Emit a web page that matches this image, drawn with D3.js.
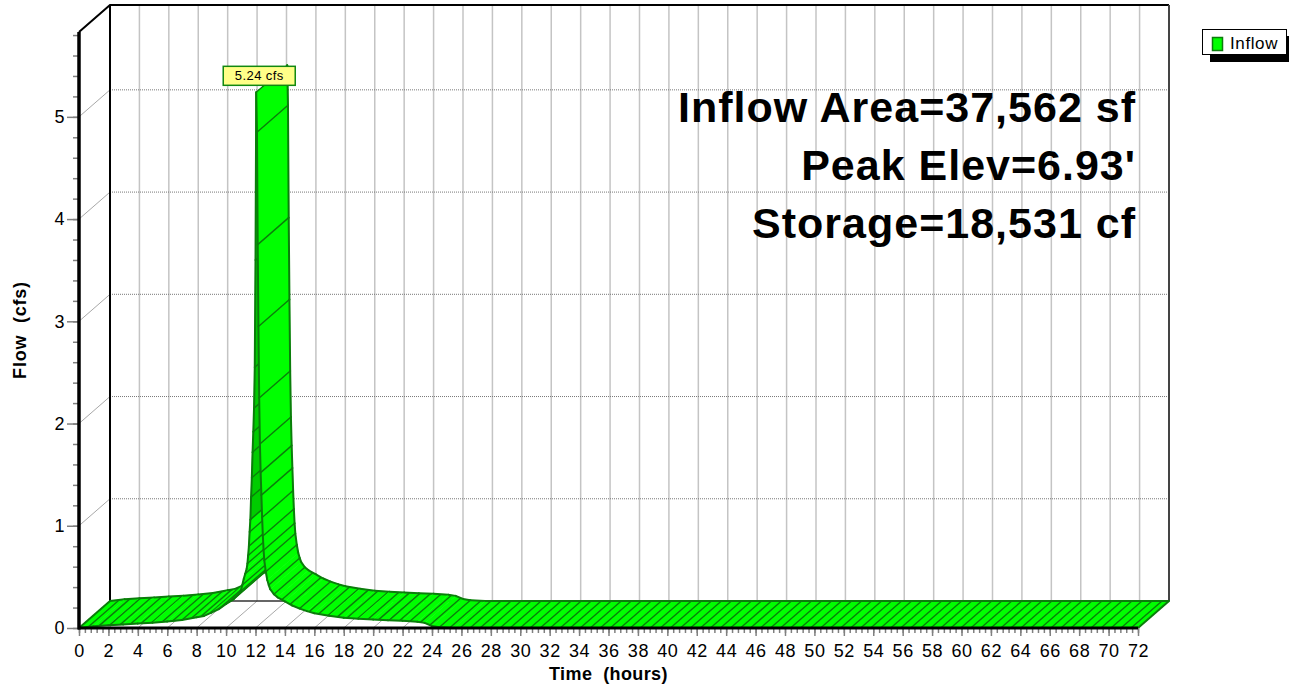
<!DOCTYPE html>
<html>
<head>
<meta charset="utf-8">
<script src="https://cdn.jsdelivr.net/npm/d3@7"></script>
<style>
  body { margin: 0; background: #fff; }
  svg { display: block; font-family: "Liberation Sans", Arial, sans-serif; }
</style>
</head>
<body>
<svg width="1294" height="686"></svg>
<script>
// inflow hydrograph (hours, cfs)
var hours = [0, 1, 2, 3, 4, 5, 6, 7, 8, 8.5, 9, 9.5, 10, 10.5,
  11, 11.1, 11.2, 11.3, 11.4, 11.45, 11.5, 11.55, 11.6, 11.65, 11.7, 11.75, 11.8, 11.85, 11.9, 11.95, 12, 12.05,
  12.1, 12.15, 12.2, 12.25, 12.3, 12.35, 12.4, 12.45, 12.5, 12.55, 12.6, 12.7, 12.8, 12.9, 13, 13.25, 13.5,
  14, 14.5, 15, 15.5, 16, 17, 18, 19, 20, 21, 22, 23, 23.5, 24, 24.5, 25.5, 72];
var flow = [0, 0.018, 0.026, 0.034, 0.043, 0.052, 0.063, 0.078, 0.105, 0.118, 0.15, 0.185, 0.235, 0.28,
  0.36, 0.42, 0.48, 0.53, 0.58, 0.63, 0.71, 0.8, 0.94, 1.06, 1.28, 1.47, 1.72, 1.92, 2.15, 2.55, 3.6, 5.24,
  4.85, 3.75, 2.95, 2.25, 1.8, 1.52, 1.3, 1.08, 0.9, 0.76, 0.66, 0.55, 0.47, 0.42, 0.38, 0.33, 0.3,
  0.26, 0.22, 0.19, 0.165, 0.145, 0.12, 0.1, 0.09, 0.082, 0.075, 0.07, 0.062, 0.05, 0.02, 0.008, 0, 0];

var peakText = '5.24 cfs';
var notes = ['Inflow Area=37,562 sf', "Peak Elev=6.93'", 'Storage=18,531 cf'];
var legendName = 'Inflow';
var xTicks = d3.range(0, 73, 2);
var yTicks = [0, 1, 2, 3, 4, 5];

var svg = d3.select('svg');
var dx = 31, dy = -27;   // depth offset of the back wall
var x = d3.scaleLinear().domain([0, 72]).range([79, 1138]);
var y = d3.scaleLinear().domain([0, 5.83]).range([628, 32]);
var yTop = 5.83;

var green = '#00ff00', dark = '#0b7d0b';

/**
 * walls and grid
 */
var grid = svg.append('g');
// back wall verticals
grid.selectAll('.bv').data(xTicks.filter(function(t){ return t > 0 && t < 72; }))
  .enter().append('line')
  .attr('x1', function(t){ return x(t) + dx; }).attr('x2', function(t){ return x(t) + dx; })
  .attr('y1', y(yTop) + dy).attr('y2', y(0) + dy)
  .attr('stroke', '#c4c4c4').attr('stroke-width', 1.5);
// floor diagonals
grid.selectAll('.fd').data(xTicks.filter(function(t){ return t > 0 && t < 72; }))
  .enter().append('line')
  .attr('x1', function(t){ return x(t); }).attr('x2', function(t){ return x(t) + dx; })
  .attr('y1', y(0)).attr('y2', y(0) + dy)
  .attr('stroke', '#a8a8a8').attr('stroke-width', 1);
// back wall horizontals (dotted)
grid.selectAll('.bh').data(yTicks.filter(function(v){ return v > 0; }))
  .enter().append('line')
  .attr('x1', x(0) + dx).attr('x2', x(72) + dx)
  .attr('y1', function(v){ return y(v) + dy; }).attr('y2', function(v){ return y(v) + dy; })
  .attr('stroke', '#777').attr('stroke-width', 1).attr('stroke-dasharray', '1,1');
// left wall diagonals
grid.selectAll('.ld').data(yTicks.filter(function(v){ return v > 0; }))
  .enter().append('line')
  .attr('x1', x(0)).attr('x2', x(0) + dx)
  .attr('y1', function(v){ return y(v); }).attr('y2', function(v){ return y(v) + dy; })
  .attr('stroke', '#a8a8a8').attr('stroke-width', 1);

// frame of the back wall
var fr = svg.append('g').attr('fill', 'none');
fr.append('path')
  .attr('d', 'M' + x(0) + ',' + y(yTop) + 'L' + (x(0) + dx) + ',' + (y(yTop) + dy) +
    'L' + (x(72) + dx) + ',' + (y(yTop) + dy))
  .attr('stroke', '#000').attr('stroke-width', 2);
fr.append('line')
  .attr('x1', x(0) + dx).attr('x2', x(0) + dx).attr('y1', y(yTop) + dy).attr('y2', y(0) + dy)
  .attr('stroke', '#000').attr('stroke-width', 2);
fr.append('line')
  .attr('x1', x(72) + dx).attr('x2', x(72) + dx).attr('y1', y(yTop) + dy).attr('y2', y(0) + dy)
  .attr('stroke', '#444').attr('stroke-width', 2);
fr.append('line')
  .attr('x1', x(0) + dx).attr('x2', x(72) + dx).attr('y1', y(0) + dy).attr('y2', y(0) + dy)
  .attr('stroke', '#333').attr('stroke-width', 1.5);

/**
 * ribbon (3D line), drawn back-to-front in time order
 */
var rib = svg.append('g');
var lastH = null;
function hatch(px, py) {
  if (lastH && Math.hypot(px - lastH[0], py - lastH[1]) < 9.5) return;
  lastH = [px, py];
  rib.append('line')
    .attr('x1', px).attr('y1', py).attr('x2', px + dx).attr('y2', py + dy)
    .attr('stroke', dark).attr('stroke-width', 1.4);
}
for (var i = 0; i < hours.length - 1; i++) {
  var ax = x(hours[i]), ay = y(flow[i]), bx = x(hours[i + 1]), by = y(flow[i + 1]);
  var steep = (ay - by) > 20 * (bx - ax);
  var fill = steep ? '#00cc00' : green;
  rib.append('path')
    .attr('d', 'M' + ax + ',' + ay + 'L' + bx + ',' + by + 'L' + (bx + dx) + ',' + (by + dy) +
      'L' + (ax + dx) + ',' + (ay + dy) + 'Z')
    .attr('fill', fill).attr('stroke', fill).attr('stroke-width', 0.6);
  if (i === 0) {
    rib.append('line').attr('x1', ax).attr('y1', ay).attr('x2', ax + dx).attr('y2', ay + dy)
      .attr('stroke', dark).attr('stroke-width', 2);
    lastH = [ax, ay];
  } else {
    lastH = lastH && Math.hypot(ax - lastH[0], ay - lastH[1]) < 9.5 && Math.abs(ay - by) < 6 ? lastH : null;
    hatch(ax, ay);
  }
  var n = Math.floor(bx - ax);
  for (var k = 1; k < n; k++) {
    var f = k / n;
    hatch(ax + (bx - ax) * f, ay + (by - ay) * f);
  }
  rib.append('line').attr('x1', ax).attr('y1', ay).attr('x2', bx).attr('y2', by)
    .attr('stroke', dark).attr('stroke-width', 2).attr('stroke-linecap', 'round');
  rib.append('line').attr('x1', ax + dx).attr('y1', ay + dy).attr('x2', bx + dx).attr('y2', by + dy)
    .attr('stroke', dark).attr('stroke-width', 2).attr('stroke-linecap', 'round');
}
var lt = hours[hours.length - 1], lv = flow[flow.length - 1];
rib.append('line').attr('x1', x(lt)).attr('y1', y(lv)).attr('x2', x(lt) + dx).attr('y2', y(lv) + dy)
  .attr('stroke', dark).attr('stroke-width', 2);

/**
 * Axes
 */
var xMinor = d3.range(0, 181).map(function(k){ return k * 0.4; });
var yMinor = d3.range(0, 30).map(function(k){ return k * 0.2; });

var xAxis = d3.axisBottom(x).tickValues(xMinor).tickSize(5).tickFormat('');
var xMajor = d3.axisBottom(x).tickValues(xTicks).tickSize(8).tickFormat(d3.format('d'));
var yAxisMinor = d3.axisLeft(y).tickValues(yMinor).tickSize(6).tickFormat('');
var yMajor = d3.axisLeft(y).tickValues(yTicks).tickSize(12).tickFormat(d3.format('d'));

function styleAxis(g) {
  g.select('.domain').remove();
  g.selectAll('line').attr('stroke', '#808080').attr('stroke-width', 1.5);
  g.selectAll('text').attr('fill', '#000').style('font-size', '18px')
    .style('letter-spacing', '0.6px')
    .style('font-family', '"Liberation Sans", Arial, sans-serif');
}
svg.append('g').attr('transform', 'translate(0,628)').call(xAxis).call(styleAxis);
svg.append('g').attr('transform', 'translate(0,628)').call(xMajor).call(styleAxis)
  .selectAll('text').attr('dy', '0.6em').attr('y', 18);
svg.append('g').attr('transform', 'translate(79,0)').call(yAxisMinor).call(styleAxis);
svg.append('g').attr('transform', 'translate(79,0)').call(yMajor).call(styleAxis)
  .selectAll('text').attr('x', -14);

// thick axis lines
svg.append('line').attr('x1', 79).attr('x2', 79).attr('y1', y(yTop)).attr('y2', y(0) + 1.5)
  .attr('stroke', '#000').attr('stroke-width', 3.5);
svg.append('line').attr('x1', 78).attr('x2', x(72)).attr('y1', y(0)).attr('y2', y(0))
  .attr('stroke', '#000').attr('stroke-width', 3);

/**
 * Labels
 */
svg.append('text')
  .text('Time  (hours)')
  .attr('x', (x(0) + x(72)) / 2).attr('y', 680)
  .attr('text-anchor', 'middle')
  .style('font-weight', 'bold').style('font-size', '18px')
  .style('letter-spacing', '0.4px')
  .style('white-space', 'pre');

svg.append('text')
  .attr('transform', 'rotate(-90)')
  .attr('x', -(y(0) + y(yTop)) / 2).attr('y', 26)
  .attr('text-anchor', 'middle')
  .style('font-weight', 'bold').style('font-size', '18px')
  .style('letter-spacing', '0.8px')
  .style('white-space', 'pre')
  .text('Flow  (cfs)');

svg.selectAll('.note').data(notes).enter().append('text')
  .attr('x', 1136)
  .attr('y', function(d, i){ return 122 + i * 58; })
  .attr('text-anchor', 'end')
  .style('font-weight', 'bold').style('font-size', '43px')
  .style('letter-spacing', '1px')
  .text(function(d){ return d; });

// peak label
var pi = flow.indexOf(d3.max(flow));
var px = x(hours[pi]) + 3, py = y(flow[pi]) - 7;
svg.append('rect')
  .attr('x', px - 36).attr('y', py - 19).attr('width', 72).attr('height', 19)
  .attr('fill', '#ffff88').attr('stroke', '#118811').attr('stroke-width', 1.5);
svg.append('text')
  .attr('x', px).attr('y', py - 5)
  .attr('text-anchor', 'middle').style('font-size', '13px')
  .style('letter-spacing', '0.4px')
  .text(peakText);

// legend
var lg = svg.append('g');
lg.append('rect').attr('x', 1210).attr('y', 36).attr('width', 79).attr('height', 26).attr('fill', '#000');
lg.append('rect').attr('x', 1202.5).attr('y', 29.5).attr('width', 84).attr('height', 25)
  .attr('fill', '#fff').attr('stroke', '#000').attr('stroke-width', 1);
lg.append('rect').attr('x', 1212.5).attr('y', 37.5).attr('width', 10).attr('height', 13)
  .attr('fill', green).attr('stroke', dark).attr('stroke-width', 1.5);
lg.append('text').attr('x', 1230).attr('y', 49).style('font-size', '17px')
  .style('letter-spacing', '0.6px').text(legendName);
</script>
</body>
</html>
